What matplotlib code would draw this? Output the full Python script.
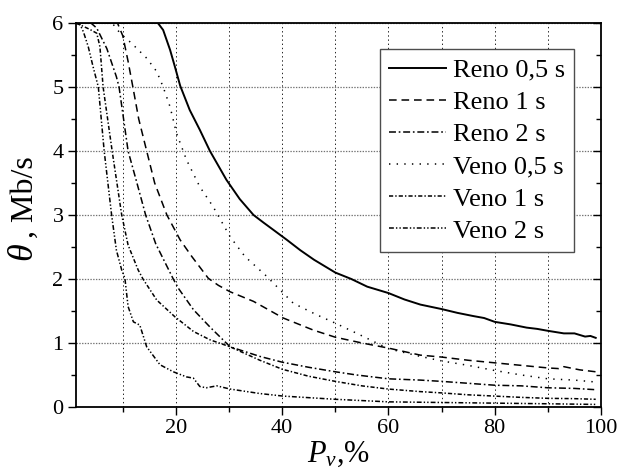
import matplotlib
matplotlib.use('Agg')
from matplotlib import pyplot as plt
from matplotlib.ticker import MultipleLocator, FixedLocator

plt.rcParams['font.family'] = ['Liberation Serif', 'DejaVu Serif']
plt.rcParams['mathtext.fontset'] = 'custom'
plt.rcParams['mathtext.rm'] = 'Liberation Serif'
plt.rcParams['mathtext.it'] = 'Liberation Serif:italic'
plt.rcParams['lines.scale_dashes'] = False

# curves: P_v (%) -> throughput (Mb/s)
reno05_x = [1.2, 16.6, 17.6, 18.9, 19.8, 20.8, 22.6, 24.5, 26.4, 29.5, 32, 34.6, 36.5, 38.3, 40.9, 43.4, 46, 50,
            53, 56, 60, 63, 66, 70, 73, 76, 78, 80, 83, 86, 88, 90, 93, 95, 97, 98, 99]
reno05_y = [6, 6, 5.89, 5.58, 5.32, 5.02, 4.64, 4.33, 4.0, 3.55, 3.25, 3.0, 2.88, 2.77, 2.61, 2.45, 2.3, 2.1,
            2.0, 1.88, 1.78, 1.68, 1.6, 1.53, 1.47, 1.42, 1.39, 1.33, 1.29, 1.24, 1.22,
            1.19, 1.15, 1.15, 1.10, 1.11, 1.08]

reno1_x = [1.2, 9, 10, 11, 11.9, 13, 14.5, 16, 18.3, 20.8, 23, 26.1, 28, 30.2, 34.6, 40.2, 45.9, 50,
           55, 60, 66, 70, 75, 80, 85, 90, 92, 93, 96, 99]
reno1_y = [6, 6, 5.8, 5.4, 5.0, 4.5, 4.0, 3.5, 3.0, 2.61, 2.35, 2.01, 1.9, 1.8, 1.65, 1.39, 1.2, 1.09,
           1.0, 0.92, 0.81, 0.78, 0.73, 0.69, 0.65, 0.61, 0.6, 0.63, 0.58, 0.55]

reno2_x = [1.2, 4, 5.1, 7, 8.8, 9.3, 11, 12.5, 14.3, 16.2, 19.5, 20.5, 23.3, 26.4, 30.2, 35.8, 40, 45, 50,
           54, 60, 66, 70, 75, 80, 85, 90, 95, 99]
reno2_y = [6, 6, 5.92, 5.6, 5.16, 5.0, 4.0, 3.55, 3.0, 2.55, 2.0, 1.85, 1.52, 1.25, 0.94, 0.79, 0.7, 0.62,
           0.55, 0.5, 0.44, 0.42, 0.4, 0.37, 0.34, 0.33, 0.3, 0.29, 0.27]

veno05_x = [1.2, 8, 9.5, 11.7, 14.5, 16.4, 17.6, 18.9, 20.1, 22, 24.5, 27, 30.2, 33, 37.1, 42.1, 46.5, 50,
            55.3, 60, 66, 70, 75, 80, 85, 90, 95, 99]
veno05_y = [6, 6, 5.84, 5.68, 5.45, 5.24, 5.0, 4.69, 4.28, 3.86, 3.44, 3.13, 2.66, 2.35, 2.04, 1.62, 1.44, 1.31,
            1.1, 0.91, 0.79, 0.72, 0.65, 0.57, 0.5, 0.44, 0.42, 0.39]

veno1_x = [1.2, 3.8, 5.1, 5.7, 6.3, 8.0, 9.8, 11.0, 12.9, 13.8, 16.4, 19.8, 23.3, 26.4, 30.2, 35.8, 40, 45,
           50, 55, 60, 66, 70, 75, 80, 85, 90, 95, 99]
veno1_y = [6, 5.9, 5.84, 5.63, 5.0, 4.0, 3.0, 2.53, 2.14, 2.0, 1.67, 1.41, 1.18, 1.05, 0.94, 0.73, 0.59, 0.48,
           0.4, 0.33, 0.28, 0.24, 0.22, 0.19, 0.17, 0.15, 0.135, 0.13, 0.12]

veno2_x = [1.2, 2, 2.6, 3.5, 4.4, 5.4, 6.5, 7.9, 8.8, 9.8, 10.4, 11.0, 12.0, 13.2, 14.5, 17, 19.5, 22,
           23.3, 24.5, 25.7, 27.7, 30.2, 35.8, 40.2, 50, 60, 70, 80, 90, 99]
veno2_y = [6, 5.97, 5.86, 5.63, 5.32, 5.0, 4.0, 3.0, 2.45, 2.14, 2.01, 1.57, 1.33, 1.28, 0.94, 0.66, 0.55, 0.47,
           0.45, 0.32, 0.3, 0.33, 0.28, 0.21, 0.17, 0.12, 0.08, 0.07, 0.06, 0.05, 0.04]

labels = ['Reno 0,5 s', 'Reno 1 s', 'Reno 2 s', 'Veno 0,5 s', 'Veno 1 s', 'Veno 2 s']

fig = plt.figure(figsize=(6.2, 4.74), dpi=100)
ax = fig.add_axes([0.1226, 0.1414, 0.9694 - 0.1226, 0.9515 - 0.1414])

lw = 1.1
ax.plot(reno05_x, reno05_y, color='black', lw=1.4, ls='-', label=labels[0])
ax.plot(reno1_x, reno1_y, color='black', lw=lw, ls=(0, (5.5, 3.5)), label=labels[1])
ax.plot(reno2_x, reno2_y, color='black', lw=lw, ls=(0, (5, 2, 1.2, 2)), label=labels[2])
ax.plot(veno05_x, veno05_y, color='black', lw=lw, ls=(0, (1, 4.5)), label=labels[3])
ax.plot(veno1_x, veno1_y, color='black', lw=lw, ls=(0, (3, 1.5, 1, 1.5)), label=labels[4])
ax.plot(veno2_x, veno2_y, color='black', lw=lw, ls=(0, (3.5, 1.5, 1, 1.5, 1, 1.5)), label=labels[5])

ax.set_xlim(1.2, 100)
ax.set_ylim(0, 6)
ax.xaxis.set_major_locator(FixedLocator([20, 40, 60, 80, 100]))
ax.xaxis.set_minor_locator(FixedLocator([10, 30, 50, 70, 90]))
ax.yaxis.set_major_locator(MultipleLocator(1))
ax.yaxis.set_minor_locator(MultipleLocator(0.5))

ax.grid(True, axis='x', which='both', color='black', lw=0.6, ls=(0, (1, 2)))
ax.grid(True, axis='y', which='major', color='0.45', lw=0.9, ls=(0, (1, 1)))
ax.set_axisbelow(True)

for s in ax.spines.values():
    s.set_linewidth(1.3)
ax.tick_params(axis='both', which='major', labelsize=16, width=1, length=6, pad=3)
ax.tick_params(axis='both', which='minor', width=1, length=3.5)
ax.tick_params(axis='y', which='both', right=True)
for t in ax.yaxis.get_major_ticks() + ax.yaxis.get_minor_ticks():
    t.tick2line.set_marker(matplotlib.lines.TICKLEFT)

# y label: big italic theta followed by the unit
fig.text(33 / 620, 1 - 262 / 474, r'$\theta$', fontsize=26, rotation=90,
         rotation_mode='anchor', ha='left', va='baseline')
fig.text(33 / 620, 1 - 238 / 474, ', Mb/s', fontsize=23, rotation=90,
         rotation_mode='anchor', ha='left', va='baseline')

ax.set_xlabel(r'$P_v$,%', fontsize=22)
ax.xaxis.set_label_coords(0.5, -0.085)

leg = ax.legend(loc='upper right', bbox_to_anchor=(0.9486, 0.932), borderaxespad=0,
                fontsize=19, handlelength=2.15, handletextpad=0.25, labelspacing=0.33,
                borderpad=0.35, fancybox=False, framealpha=1, edgecolor='0.3')
leg.get_frame().set_linewidth(1.0)

fig.savefig('out.png', dpi=100)
